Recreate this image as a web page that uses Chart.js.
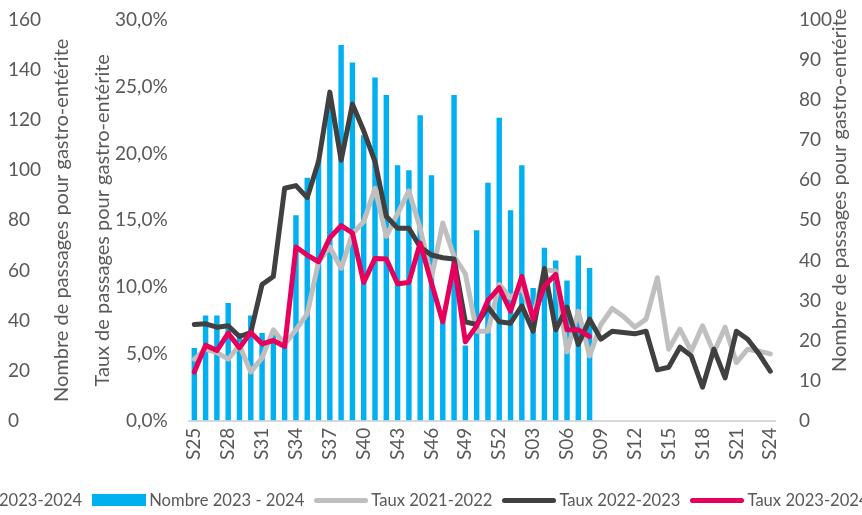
<!DOCTYPE html>
<html lang="fr">
<head>
<meta charset="utf-8">
<title>Passages pour gastro-entérite</title>
<script src="https://cdn.jsdelivr.net/npm/chart.js@4.4.1/dist/chart.umd.min.js"></script>
<style>
    html, body { margin: 0; padding: 0; background: #fff; overflow: hidden; }
    #wrap { position: relative; width: 862px; height: 515px; overflow: hidden; }
    #legend {
        position: absolute; left: -1px; top: 488px; height: 24px; width: max-content;
        display: flex; align-items: center; white-space: nowrap;
        font: 16.6px Lato, sans-serif; color: #595959;
    }
    #legend .item { display: flex; align-items: center; margin-right: 10px; flex-shrink: 0; }
    #legend .sw { width: 54px; margin-right: 3px; flex-shrink: 0; }
</style>
</head>
<body>
<div id="wrap">
    <canvas id="gastroChart"></canvas>
    <div id="legend"></div>
</div>
<script>
// semaines S25 -> S24
const semaines = ['S25', 'S26', 'S27', 'S28', 'S29', 'S30', 'S31', 'S32', 'S33', 'S34',
    'S35', 'S36', 'S37', 'S38', 'S39', 'S40', 'S41', 'S42', 'S43', 'S44',
    'S45', 'S46', 'S47', 'S48', 'S49', 'S50', 'S51', 'S52', 'S01', 'S02',
    'S03', 'S04', 'S05', 'S06', 'S07', 'S08', 'S09', 'S10', 'S11', 'S12',
    'S13', 'S14', 'S15', 'S16', 'S17', 'S18', 'S19', 'S20', 'S21', 'S22',
    'S23', 'S24'];

// nombre de passages 2023-2024 (S25 -> S08)
const nombre2324 = [29, 42, 42, 47, 35, 42, 35, 35, 31, 82,
    97, 104, 125, 150, 143, 114, 137, 130, 102, 100,
    122, 98, 40, 130, 30, 76, 95, 121, 84, 102,
    53, 69, 64, 56, 66, 61];

// taux (%) de passages pour gastro-entérite
const taux2122 = [4.6, 5.35, 5.1, 4.6, 5.65, 3.65, 4.7, 6.8, 5.7, 6.8,
    8.0, 11.9, 13.0, 11.4, 14.0, 14.9, 17.4, 13.8, 15.5, 17.2,
    14.4, 10.7, 14.8, 12.3, 11.0, 6.7, 6.7, 10.2, 9.2, 9.95,
    7.7, 11.3, 11.2, 5.15, 8.2, 4.85, 7.2, 8.4, 7.8, 7.0,
    7.6, 10.7, 5.35, 6.85, 5.2, 7.1, 5.1, 7.0, 4.35, 5.35,
    5.2, 5.0];
const taux2223 = [7.2, 7.25, 7.0, 7.1, 6.3, 6.6, 10.2, 10.8, 17.4, 17.6,
    16.7, 19.4, 24.6, 19.5, 23.7, 21.7, 19.4, 15.3, 14.4, 14.4,
    13.0, 12.4, 12.2, 12.1, 7.4, 7.2, 8.5, 7.4, 7.3, 8.6,
    6.7, 11.4, 6.8, 8.5, 5.7, 7.6, 6.1, 6.7, 6.6, 6.5,
    6.7, 3.8, 4.0, 5.5, 4.85, 2.5, 5.35, 3.2, 6.7, 6.1,
    5.0, 3.7];
const taux2324 = [3.65, 5.65, 5.25, 6.55, 5.45, 6.6, 5.75, 6.0, 5.55, 13.0,
    12.4, 11.9, 13.7, 14.6, 14.05, 10.35, 12.15, 12.1, 10.25, 10.35,
    13.3, 10.3, 7.4, 11.75, 5.9, 7.1, 9.0, 9.95, 8.2, 10.8,
    7.6, 10.1, 10.95, 6.8, 6.8, 6.3];

const titreNombre = 'Nombre de passages pour gastro-entérite';
const titreTaux = 'Taux de passages pour gastro-entérite';

const couleurs = {
    nombre: '#00B0F0',
    t2122: '#BFBFBF',
    t2223: '#404040',
    t2324: '#E6005C'
};

Chart.defaults.font.family = 'Lato';
Chart.defaults.color = '#595959';

const tickFont = { size: 19 };
const titleFont = { size: 20 };

// graduations invisibles : servent d'écart entre les libellés et la zone du graphique
const noGrid = (len) => ({
    display: true,
    drawOnChartArea: false,
    drawTicks: len > 0,
    tickLength: len,
    tickColor: 'rgba(0,0,0,0)'
});

// titre de l'axe de droite, écrit de bas en haut comme à gauche
const titreDroite = {
    id: 'titreDroite',
    afterDraw(chart) {
        const s = chart.scales.yDroite;
        const c = chart.ctx;
        c.save();
        c.translate(s.right + 4, (s.top + s.bottom) / 2 - 30);
        c.rotate(-Math.PI / 2);
        c.font = titleFont.size + 'px Lato';
        c.fillStyle = '#595959';
        c.textAlign = 'center';
        c.textBaseline = 'middle';
        c.fillText(titreNombre, 0, 0);
        c.restore();
    }
};

const ctx = document.getElementById('gastroChart').getContext('2d');
const chart = new Chart(ctx, {
    type: 'bar',
    data: {
        labels: semaines,
        datasets: [
            {
                type: 'line',
                label: 'Taux 2023-2024',
                data: taux2324,
                yAxisID: 'yTaux',
                borderColor: couleurs.t2324,
                borderWidth: 5,
                pointRadius: 0,
                tension: 0,
                borderJoinStyle: 'round',
                borderCapStyle: 'round',
                order: 1
            },
            {
                type: 'line',
                label: 'Taux 2022-2023',
                data: taux2223,
                yAxisID: 'yTaux',
                borderColor: couleurs.t2223,
                borderWidth: 5,
                pointRadius: 0,
                tension: 0,
                borderJoinStyle: 'round',
                borderCapStyle: 'round',
                order: 2
            },
            {
                type: 'line',
                label: 'Taux 2021-2022',
                data: taux2122,
                yAxisID: 'yTaux',
                borderColor: couleurs.t2122,
                borderWidth: 5,
                pointRadius: 0,
                tension: 0,
                borderJoinStyle: 'round',
                borderCapStyle: 'round',
                order: 3
            },
            {
                label: 'Nombre 2023 - 2024',
                data: nombre2324,
                yAxisID: 'yNombre',
                backgroundColor: couleurs.nombre,
                categoryPercentage: 1,
                barPercentage: 0.48,
                order: 4
            }
        ]
    },
    options: {
        responsive: true,
        maintainAspectRatio: false,
        animation: false,
        layout: {
            padding: { left: 8, right: 26, top: 20, bottom: 48 }
        },
        plugins: {
            legend: { display: false },
            tooltip: { enabled: false }
        },
        scales: {
            x: {
                grid: { display: false, drawTicks: false },
                border: { color: '#D9D9D9', width: 2 },
                ticks: {
                    font: tickFont,
                    autoSkip: false,
                    minRotation: 90,
                    maxRotation: 90,
                    padding: 7,
                    callback: function (val, i) {
                        return i % 3 === 0 ? this.getLabelForValue(val) : '';
                    }
                }
            },
            yNombre: {
                position: 'left',
                weight: 2,
                min: 0,
                max: 160,
                grid: noGrid(0),
                border: { display: false },
                ticks: { stepSize: 20, font: tickFont, crossAlign: 'far', padding: 4 }
            },
            yTitre: {
                type: 'linear',
                position: 'left',
                weight: 1,
                min: 0,
                max: 1,
                grid: { display: false, drawTicks: false },
                border: { display: false },
                ticks: { display: false },
                title: {
                    display: true,
                    text: titreNombre,
                    font: titleFont,
                    padding: { top: 0, bottom: 18 }
                }
            },
            yTaux: {
                position: 'left',
                weight: 0,
                min: 0,
                max: 30,
                grid: noGrid(17),
                border: { display: false },
                ticks: {
                    stepSize: 5,
                    font: tickFont,
                    padding: 4,
                    callback: (v) => v.toFixed(1).replace('.', ',') + '%'
                },
                title: {
                    display: true,
                    text: titreTaux,
                    font: titleFont,
                    padding: { top: -1, bottom: -3 }
                }
            },
            yDroite: {
                type: 'linear',
                position: 'right',
                min: 0,
                max: 100,
                grid: noGrid(19),
                border: { display: false },
                ticks: { stepSize: 10, font: tickFont, padding: 4 }
            }
        }
    },
    plugins: [titreDroite]
});

// légende HTML (coupée à gauche et à droite comme l'original)
const legend = document.getElementById('legend');
const items = [
    { text: '2023-2024', sw: null },
    { text: 'Nombre 2023 - 2024', sw: { color: couleurs.nombre, h: 12 } },
    { text: 'Taux 2021-2022', sw: { color: couleurs.t2122, h: 5 } },
    { text: 'Taux 2022-2023', sw: { color: couleurs.t2223, h: 5 } },
    { text: 'Taux 2023-2024', sw: { color: couleurs.t2324, h: 5 } }
];
items.forEach(it => {
    const el = document.createElement('span');
    el.className = 'item';
    if (it.sw) {
        const sw = document.createElement('span');
        sw.className = 'sw';
        sw.style.height = it.sw.h + 'px';
        sw.style.background = it.sw.color;
        sw.style.borderRadius = it.sw.h < 10 ? '3px' : '0';
        el.appendChild(sw);
    }
    el.appendChild(document.createTextNode(it.text));
    legend.appendChild(el);
});
</script>
</body>
</html>
